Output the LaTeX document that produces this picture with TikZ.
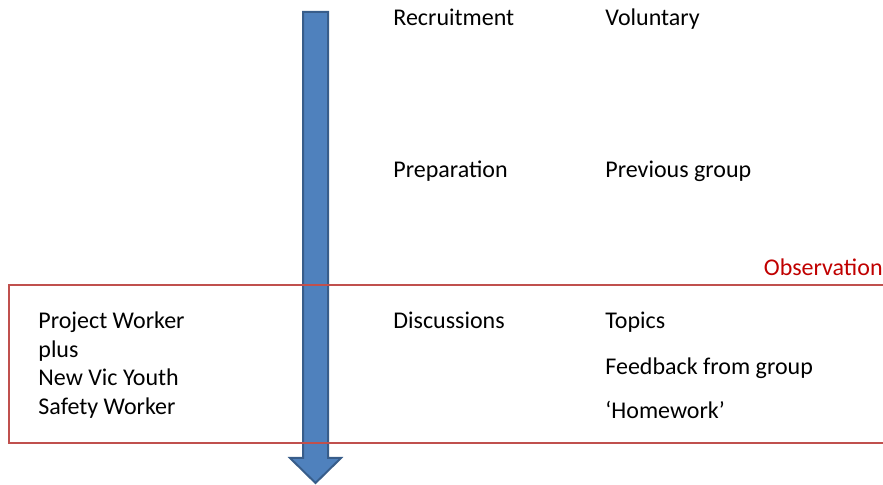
\documentclass[tikz,border=0pt]{standalone}
\usepackage{fontspec}
\setmainfont{Carlito}
\usepackage{tikz}
\usepackage{xcolor}
\usetikzlibrary{positioning}

\definecolor{arrowfill}{HTML}{4F81BD}
\definecolor{arrowline}{HTML}{385D8A}
\definecolor{boxline}{HTML}{C0504D}
\definecolor{obstext}{HTML}{C00000}

\begin{document}
\begin{tikzpicture}
[
x=0.5pt, y=-0.5pt,
text-a/.style={anchor=base west, inner sep=0pt, font=\fontsize{12}{14.25}\selectfont},
text-obs/.style={anchor=base east, inner sep=0pt, text=obstext, font=\fontsize{12}{14.25}\selectfont},
arrow-a/.style={fill=arrowfill, draw=arrowline, line width=1pt, line join=miter},
box-a/.style={draw=boxline, line width=1.2pt}
]

\useasboundingbox (0,0) rectangle (883,485);

% time arrow
\coordinate (arrow-top) at (315.5,12);
\coordinate (arrow-tip) at (315.5,483);
\draw [arrow-a] (303,12) -- (328,12) -- (328,458) -- (341,458) -- (arrow-tip)
                -- (290,458) -- (303,458) -- cycle;

% observation frame, open to the right, over the arrow
\coordinate (box-tr) at (884,285);
\coordinate (box-tl) at (9,285);
\coordinate (box-bl) at (9,443);
\coordinate (box-br) at (884,443);
\draw [box-a] (box-tr) -- (box-tl) -- (box-bl) -- (box-br);

\node (recruit)   [text-a]   at (393,26)    {Recruitment};
\node (volunt)    [text-a]   at (605,26)    {Voluntary};
\node (prep)      [text-a]   at (393,178)   {Preparation};
\node (prev)      [text-a]   at (605,178)   {Previous group};
\node (obs)       [text-obs] at (883,276)   {Observation};
\node (discuss)   [text-a]   at (393,329)   {Discussions};
\node (topics)    [text-a]   at (605,329)   {Topics};
\node (feedback)  [text-a]   at (605,375)   {Feedback from group};
\node (homework)  [text-a]   at (605,419)   {‘Homework’};
\node (worker-1)  [text-a]   at (38,329)    {Project Worker};
\node (worker-2)  [text-a]   at (38,357.5)  {plus};
\node (worker-3)  [text-a]   at (38,386)    {New Vic Youth};
\node (worker-4)  [text-a]   at (38,414.5)  {Safety Worker};

\end{tikzpicture}
\end{document}
